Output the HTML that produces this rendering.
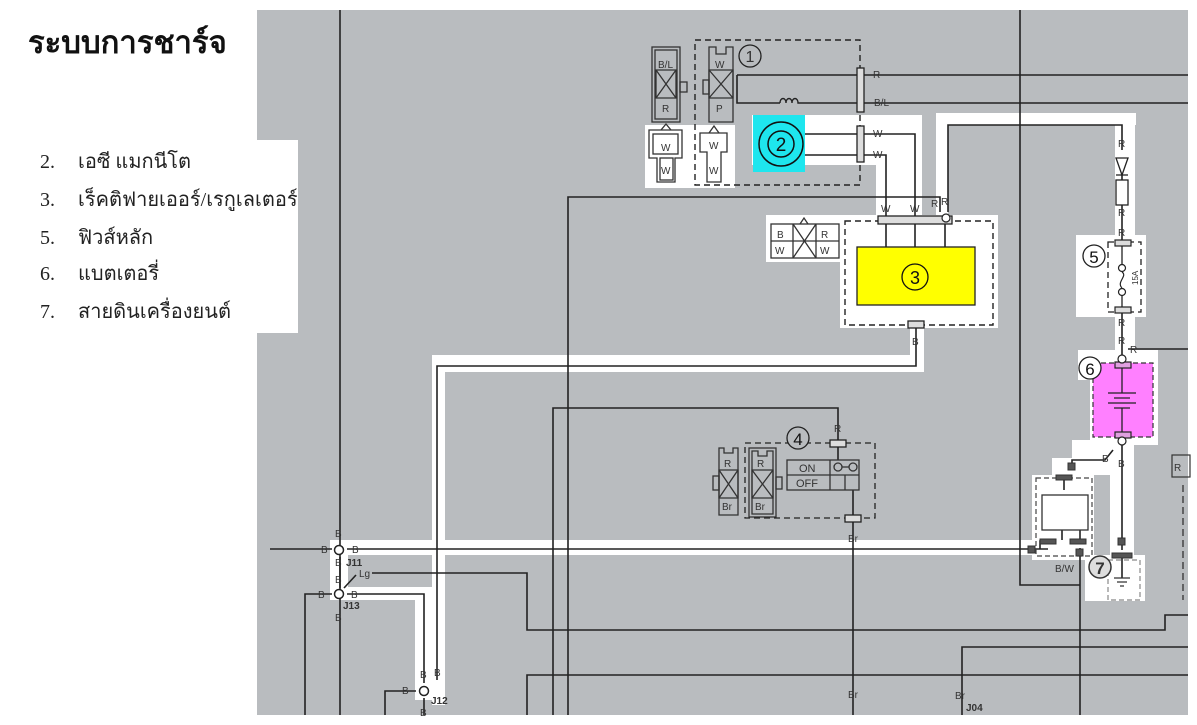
<!DOCTYPE html>
<html><head><meta charset="utf-8"><style>
html,body{margin:0;padding:0;background:#fff;}
svg{display:block;}
.t{font-family:"Liberation Serif","DejaVu Serif",serif;}
.l{font-family:"Liberation Sans",sans-serif;font-size:10px;fill:#333;}
</style></head><body>
<svg width="1197" height="725" viewBox="0 0 1197 725" xmlns="http://www.w3.org/2000/svg">
<rect width="1197" height="725" fill="#fff"/>
<!-- gray diagram area -->
<rect x="257" y="10" width="931" height="705" fill="#b9bcbf"/>
<!-- white list box -->
<rect x="0" y="140" width="298" height="193" fill="#fff"/>

<!-- white highlight regions -->
<g fill="#fff">
<rect x="645" y="125" width="90" height="63"/>
<rect x="752" y="115" width="170" height="50"/>
<rect x="876" y="115" width="46" height="105"/>
<rect x="766" y="215" width="78" height="47"/>
<rect x="840" y="215" width="158" height="113"/>
<rect x="910" y="320" width="14" height="52"/>
<rect x="432" y="355" width="492" height="17"/>
<rect x="432" y="355" width="13" height="350"/>
<rect x="330" y="540" width="715" height="15"/>
<rect x="330" y="540" width="18" height="60"/>
<rect x="330" y="587" width="115" height="13"/>
<rect x="415" y="587" width="30" height="113"/>
<rect x="936" y="113" width="12" height="105"/>
<rect x="936" y="113" width="200" height="12"/>
<rect x="1115" y="113" width="20" height="250"/>
<rect x="1076" y="235" width="70" height="82"/>
<rect x="1078" y="350" width="80" height="30"/>
<rect x="1090" y="355" width="68" height="90"/>
<rect x="1110" y="440" width="24" height="160"/>
<rect x="1072" y="440" width="45" height="35"/>
<rect x="1052" y="458" width="40" height="22"/>
<rect x="1032" y="475" width="62" height="85"/>
<rect x="1085" y="555" width="60" height="46"/>
</g>

<!-- wires -->
<g stroke="#222" stroke-width="1.6" fill="none">
<path d="M340 10V715"/>
<path d="M568 715V197H940V212"/>
<path d="M553 715V408H838V440"/>
<path d="M1020 10V585H1080"/>
<path d="M862 75H1188M862 103H1188"/>
<path d="M737 75H862M737 75V103H780M800 103H862"/>
<path d="M805 134H860M805 155H860"/>
<path d="M862 134H915V216M862 155H886V216"/>
<path d="M886 224V247M915 224V247M945 224V247"/>
<path d="M948 212V125H1122V150"/>
<path d="M1122 175V180M1122 205V240M1122 312V358"/>
<path d="M1128 349H1188"/>
<path d="M1122 440V550M1122 558V578"/>
<path d="M1113 450L1105 460H1072V468"/>
<path d="M916 328V366H437V680"/>
<path d="M270 549H332M347 549H1048"/>
<path d="M340 557V588"/>
<path d="M305 715V594H332M347 594H424V683"/>
<path d="M344 588L356 575M372 573H527V630H1165V615H1188"/>
<path d="M527 715V675H1188"/>
<path d="M962 715V647H1188"/>
<path d="M853 520V715"/>
<path d="M838 446V460M853 490V515"/>
<path d="M1080 548V715"/>
<path d="M385 715V691H416M424 698V715"/>
<path d="M1064 478V490M1062 530V540M1080 530V540"/>
<path d="M1052 541H1040V549"/>
</g>
<!-- coil -->
<path d="M780 103c0-6 6-6 6 0c0-6 6-6 6 0c0-6 6-6 6 0c0 0 2 0 2 0" stroke="#222" stroke-width="1.4" fill="none"/>

<!-- component 1 box -->
<rect x="695" y="40" width="165" height="145" fill="none" stroke="#222" stroke-width="1.4" stroke-dasharray="6 4"/>
<circle cx="750" cy="56" r="11" fill="none" stroke="#222" stroke-width="1.3"/>
<text x="750" y="62" class="l" font-size="16" text-anchor="middle" style="font-size:16px">1</text>
<!-- connectors top left -->
<g stroke="#333" stroke-width="1.3" fill="none">
<rect x="652" y="47" width="28" height="75"/><rect x="655" y="50" width="22" height="69"/>
<path d="M656 70H676V98H656Z M656 70L676 98M676 70L656 98"/>
<rect x="680" y="82" width="7" height="10"/>
<path d="M709 47V122H733V47H726V54H716V47Z"/>
<path d="M709 70H733V98H709Z M709 70L733 98M733 70L709 98"/>
<rect x="703" y="80" width="6" height="14"/>
<path d="M649 130H682V158H675V182H657V158H649Z"/>
<rect x="653" y="134" width="25" height="20"/>
<rect x="660" y="158" width="13" height="22"/>
<path d="M700 133H727V152H721V182H707V152H700Z"/>
<path d="M661 130L666 124L671 130M709 133L714 126L719 133"/>
</g>
<g class="l">
<text x="658" y="68">B/L</text><text x="662" y="112">R</text>
<text x="715" y="68">W</text><text x="716" y="112">P</text>
<text x="661" y="151">W</text><text x="661" y="174">W</text>
<text x="709" y="149">W</text><text x="709" y="174">W</text>
<text x="873" y="78">R</text><text x="874" y="106">B/L</text>
<text x="873" y="137">W</text><text x="873" y="158">W</text>
<text x="881" y="212">W</text><text x="910" y="212">W</text>
<text x="931" y="207">R</text><text x="941" y="205">R</text>
</g>
<rect x="857" y="68" width="7" height="44" fill="#ddd" stroke="#222" stroke-width="1.3"/>
<rect x="857" y="126" width="7" height="36" fill="#ddd" stroke="#222" stroke-width="1.3"/>

<!-- component 2 -->
<rect x="753" y="115" width="52" height="57" fill="#1ee6ee"/>
<circle cx="781" cy="144" r="22" fill="none" stroke="#111" stroke-width="1.5"/>
<circle cx="781" cy="144" r="13" fill="none" stroke="#111" stroke-width="1.5"/>
<text x="781" y="151" text-anchor="middle" style="font-family:'Liberation Sans',sans-serif;font-size:19px;fill:#111">2</text>

<!-- regulator legend connector -->
<g stroke="#333" stroke-width="1.3" fill="none">
<rect x="771" y="224" width="68" height="34"/>
<path d="M793 224V258M816 224V258M771 241H839M793 224L816 258M816 224L793 258M800 224L804 218L808 224"/>
</g>
<g class="l"><text x="777" y="238">B</text><text x="821" y="238">R</text><text x="775" y="254">W</text><text x="820" y="254">W</text></g>

<!-- component 3 -->
<rect x="845" y="221" width="148" height="104" fill="none" stroke="#222" stroke-width="1.4" stroke-dasharray="6 4"/>
<rect x="878" y="216" width="74" height="8" fill="#ddd" stroke="#222" stroke-width="1.3"/>
<circle cx="946" cy="218" r="4" fill="#fff" stroke="#222" stroke-width="1.2"/>
<rect x="857" y="247" width="118" height="58" fill="#ffff00" stroke="#222" stroke-width="1.3"/>
<circle cx="915" cy="277" r="13" fill="none" stroke="#111" stroke-width="1.3"/>
<text x="915" y="284" text-anchor="middle" style="font-family:'Liberation Sans',sans-serif;font-size:18px;fill:#111">3</text>
<rect x="908" y="321" width="16" height="7" fill="#ddd" stroke="#222" stroke-width="1.3"/>
<text x="912" y="345" class="l">B</text>

<!-- diode & resistor -->
<text x="1118" y="147" class="l">R</text>
<path d="M1116 158H1128L1122 175Z" fill="#fff" stroke="#222" stroke-width="1.3"/>
<path d="M1116 175H1128" stroke="#222" stroke-width="1.3"/>
<rect x="1116" y="180" width="12" height="25" fill="#fff" stroke="#222" stroke-width="1.3"/>
<g class="l"><text x="1118" y="216">R</text><text x="1118" y="236">R</text><text x="1118" y="326">R</text><text x="1118" y="344">R</text><text x="1130" y="353">R</text></g>

<!-- fuse 5 -->
<rect x="1108" y="242" width="33" height="70" fill="none" stroke="#222" stroke-width="1.3" stroke-dasharray="6 4"/>
<rect x="1115" y="240" width="16" height="6" fill="#ddd" stroke="#222" stroke-width="1.2"/>
<rect x="1115" y="307" width="16" height="6" fill="#ddd" stroke="#222" stroke-width="1.2"/>
<path d="M1122 246V265M1122 295V307" stroke="#222" stroke-width="1.3"/>
<circle cx="1122" cy="268" r="3.5" fill="none" stroke="#222" stroke-width="1.2"/>
<circle cx="1122" cy="292" r="3.5" fill="none" stroke="#222" stroke-width="1.2"/>
<path d="M1122 272c6 4-6 10 0 16" stroke="#222" stroke-width="1.2" fill="none"/>
<text transform="translate(1138 285) rotate(-90)" class="l" style="font-size:8px">15A</text>
<circle cx="1094" cy="256" r="11" fill="#fff" stroke="#222" stroke-width="1.3"/>
<text x="1094" y="263" text-anchor="middle" style="font-family:'Liberation Sans',sans-serif;font-size:17px;fill:#111">5</text>

<!-- battery 6 -->
<rect x="1093" y="363" width="60" height="74" fill="#ff80ff" stroke="#333" stroke-width="1.2" stroke-dasharray="5 3"/>
<rect x="1115" y="362" width="16" height="6" fill="#e0a0e0" stroke="#222" stroke-width="1.2"/>
<rect x="1115" y="432" width="16" height="6" fill="#e0a0e0" stroke="#222" stroke-width="1.2"/>
<circle cx="1122" cy="359" r="4" fill="#fff" stroke="#222" stroke-width="1.2"/>
<circle cx="1122" cy="441" r="4" fill="#fff" stroke="#222" stroke-width="1.2"/>
<g stroke="#222" stroke-width="1.3">
<path d="M1122 368V393M1122 408V432M1108 393H1136M1114 398H1130M1108 403H1136M1114 408H1130"/>
</g>
<circle cx="1090" cy="368" r="11" fill="#fff" stroke="#222" stroke-width="1.3"/>
<text x="1090" y="375" text-anchor="middle" style="font-family:'Liberation Sans',sans-serif;font-size:17px;fill:#111">6</text>
<g class="l"><text x="1102" y="462">B</text><text x="1118" y="467">B</text></g>

<!-- rectifier-like box at bottom right -->
<rect x="1036" y="478" width="56" height="78" fill="none" stroke="#444" stroke-width="1.2" stroke-dasharray="5 3"/>
<rect x="1042" y="495" width="46" height="35" fill="#fff" stroke="#333" stroke-width="1.3"/>
<g fill="#555" stroke="#333" stroke-width="1">
<rect x="1056" y="475" width="16" height="5"/><rect x="1068" y="463" width="7" height="7"/>
<rect x="1040" y="539" width="16" height="5"/><rect x="1070" y="539" width="16" height="5"/>
<rect x="1028" y="546" width="7" height="7"/><rect x="1076" y="549" width="7" height="7"/>
<rect x="1118" y="538" width="7" height="7"/><rect x="1112" y="553" width="20" height="5"/>
</g>
<text x="1055" y="572" class="l">B/W</text>
<!-- ground 7 -->
<rect x="1108" y="560" width="32" height="40" fill="none" stroke="#888" stroke-width="1.2" stroke-dasharray="5 3"/>
<path d="M1114 578H1130M1117 582H1127M1120 586H1124" stroke="#333" stroke-width="1.2"/>
<circle cx="1100" cy="567" r="11" fill="#ddd" stroke="#333" stroke-width="1.5"/>
<text x="1100" y="574" text-anchor="middle" style="font-family:'Liberation Sans',sans-serif;font-size:17px;font-weight:bold;fill:#333">7</text>
<!-- right edge partial -->
<rect x="1172" y="455" width="18" height="22" fill="none" stroke="#333" stroke-width="1.2"/>
<text x="1174" y="471" class="l">R</text>
<path d="M1183 485V600" stroke="#333" stroke-width="1.3" stroke-dasharray="7 4"/>

<!-- switch 4 -->
<rect x="745" y="443" width="130" height="75" fill="none" stroke="#222" stroke-width="1.3" stroke-dasharray="6 4"/>
<circle cx="798" cy="438" r="11" fill="#b9bcbf" stroke="#222" stroke-width="1.3"/>
<text x="798" y="445" text-anchor="middle" style="font-family:'Liberation Sans',sans-serif;font-size:17px;fill:#111">4</text>
<rect x="830" y="440" width="16" height="7" fill="#ddd" stroke="#222" stroke-width="1.3"/>
<rect x="845" y="515" width="16" height="7" fill="#ddd" stroke="#222" stroke-width="1.3"/>
<g stroke="#333" stroke-width="1.3" fill="none">
<path d="M719 448V515H738V448H733V453H724V448Z"/>
<path d="M719 470H738V498H719Z M719 470L738 498M738 470L719 498"/>
<rect x="713" y="476" width="6" height="14"/>
<rect x="749" y="448" width="27" height="69"/>
<path d="M752 451V514H773V451H767V456H758V451Z"/>
<path d="M752 470H773V498H752Z M752 470L773 498M773 470L752 498"/>
<rect x="776" y="477" width="6" height="12"/>
<rect x="787" y="460" width="72" height="30"/>
<path d="M787 475H859M830 460V490M845 475V490"/>
<circle cx="838" cy="467" r="4"/><circle cx="853" cy="467" r="4"/><path d="M842 467H849"/>
</g>
<g class="l">
<text x="724" y="467">R</text><text x="722" y="510">Br</text>
<text x="757" y="467">R</text><text x="755" y="510">Br</text>
<text x="799" y="472" style="font-size:11px">ON</text><text x="796" y="487" style="font-size:11px">OFF</text>
<text x="834" y="432">R</text><text x="848" y="542">Br</text><text x="848" y="698">Br</text>
</g>

<!-- junctions -->
<g fill="#fff" stroke="#222" stroke-width="1.5">
<circle cx="339" cy="550" r="4.5"/><circle cx="339" cy="594" r="4.5"/><circle cx="424" cy="691" r="4.5"/>
</g>
<g class="l">
<text x="335" y="537">B</text><text x="321" y="553">B</text><text x="352" y="553">B</text>
<text x="335" y="566">B</text><text x="346" y="566" style="font-weight:bold">J11</text>
<text x="335" y="583">B</text><text x="359" y="577">Lg</text>
<text x="318" y="598">B</text><text x="351" y="598">B</text>
<text x="343" y="609" style="font-weight:bold">J13</text><text x="335" y="621">B</text>
<text x="420" y="678">B</text><text x="434" y="676">B</text>
<text x="402" y="694">B</text><text x="431" y="704" style="font-weight:bold">J12</text>
<text x="420" y="716">B</text>
<text x="955" y="699">Br</text><text x="966" y="711" style="font-weight:bold">J04</text>
</g>

<!-- title & list -->
<text x="28" y="53" class="t" style="font-size:31px;font-weight:bold;fill:#111">ระบบการชาร์จ</text>
<g class="t" style="font-size:20px;fill:#222">
<text x="40" y="168">2.</text><text x="78" y="168">เอซี แมกนีโต</text>
<text x="40" y="206">3.</text><text x="78" y="206">เร็คติฟายเออร์/เรกูเลเตอร์</text>
<text x="40" y="244">5.</text><text x="78" y="244">ฟิวส์หลัก</text>
<text x="40" y="280">6.</text><text x="78" y="280">แบตเตอรี่</text>
<text x="40" y="318">7.</text><text x="78" y="318">สายดินเครื่องยนต์</text>
</g>
</svg>
</body></html>
